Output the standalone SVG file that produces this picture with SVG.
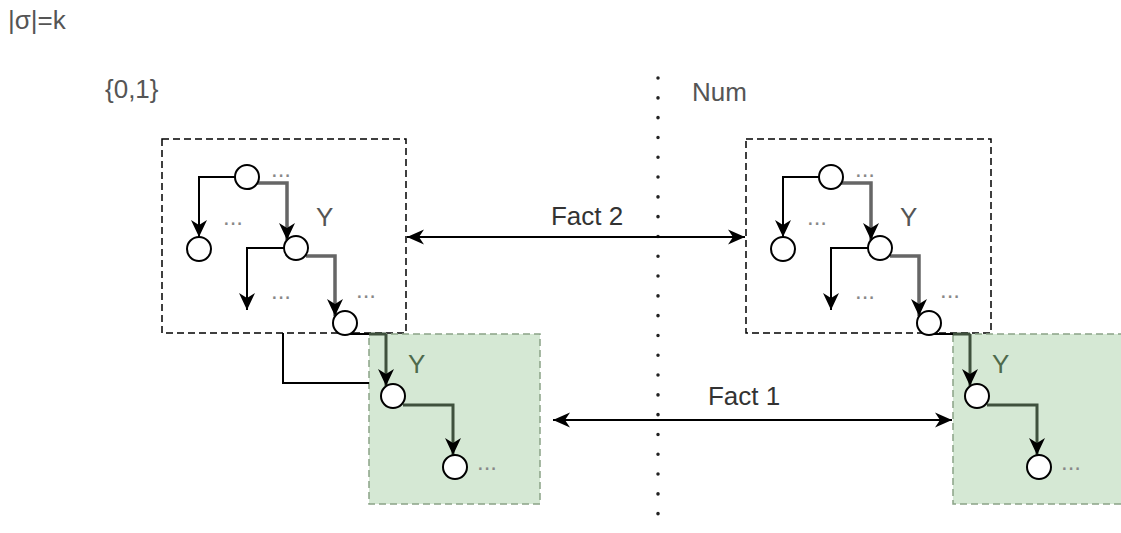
<svg xmlns="http://www.w3.org/2000/svg" width="1121" height="533" viewBox="0 0 1121 533">
  <style>
    .lbl { font-family: "Liberation Sans", Arial, sans-serif; font-size: 26px; fill: #333333; }
    .ttl { font-family: "Liberation Sans", Arial, sans-serif; font-size: 26px; fill: #555555; }
    .dots { font-family: "Liberation Sans", Arial, sans-serif; font-size: 24px; fill: #888888; }
    .yl { font-family: "Liberation Sans", Arial, sans-serif; font-size: 26px; fill: #555555; }
    .yg { font-family: "Liberation Sans", Arial, sans-serif; font-size: 26px; fill: #4e6a4c; }
    .frame { fill: none; stroke: #000000; stroke-width: 1.5; stroke-dasharray: 7 4; }
    .green { fill: #d5e8d4; stroke: #8aa387; stroke-width: 1.5; stroke-dasharray: 7 4; }
    .node { fill: #ffffff; stroke: #000000; stroke-width: 2; }
    .e { fill: none; stroke: #000000; stroke-width: 2; }
    .ey { fill: none; stroke: #666666; stroke-width: 3.5; }
    .eg { fill: none; stroke: #3f513d; stroke-width: 3; }
    .arr { marker-end: url(#tip); }
    .both { fill: none; stroke: #000000; stroke-width: 2; marker-start: url(#tip2); marker-end: url(#tip2); }
    .sep { fill: none; stroke: #222222; stroke-width: 3.5; stroke-linecap: round; stroke-dasharray: 0.1 19.7; }
  </style>
  <defs>
    <marker id="tip" markerUnits="userSpaceOnUse" viewBox="0 0 18 18" markerWidth="18" markerHeight="18" refX="17" refY="9" orient="auto" overflow="visible">
      <path d="M0,1 L17,9 L0,17 L5,9 Z" fill="#000000"/>
    </marker>
    <marker id="tip2" markerUnits="userSpaceOnUse" viewBox="0 0 18 18" markerWidth="18" markerHeight="18" refX="17" refY="9" orient="auto-start-reverse" overflow="visible">
      <path d="M0,1.5 L17,9 L0,16.5 L5,9 Z" fill="#000000"/>
    </marker>
  </defs>

  <rect width="1121" height="533" fill="#ffffff"/>

  <!-- headings -->
  <g id="title"><text class="ttl" x="8" y="29">|σ|=k</text></g>
  <g id="label-binary"><text class="ttl" x="105" y="98">{0,1}</text></g>
  <g id="label-num"><text class="ttl" x="692" y="101">Num</text></g>

  <!-- vertical separator -->
  <g id="separator"><line class="sep" x1="658" y1="78" x2="658" y2="532"/></g>

  <!-- frames -->
  <g id="frame-left"><rect class="frame" x="162" y="139" width="244" height="194"/></g>
  <g id="frame-right"><rect class="frame" x="746" y="139" width="245" height="194"/></g>
  <g id="suffix-left"><rect class="green" x="369" y="334" width="171" height="170"/></g>
  <g id="suffix-right"><rect class="green" x="953" y="334" width="175" height="170"/></g>

  <!-- connectors -->
  <g id="connectors">
    <!-- left tree -->
    <path class="e arr" d="M235,177 H199 V237"/>
    <path class="ey arr" d="M257,183 H287 V240"/>
    <path class="e arr" d="M284,248 H247 V310"/>
    <path class="ey arr" d="M306,256 H335 V316"/>
    <path class="e" d="M345,334 H369"/>
    <path class="eg" d="M369,334 H386"/>
    <path class="eg arr" d="M386,334 V386"/>
    <path class="e" d="M283,333 V383 H369"/>
    <path class="eg arr" d="M403,405 H453 V455"/>
    <!-- right tree -->
    <path class="e arr" d="M819,177 H783 V237"/>
    <path class="ey arr" d="M841,183 H871 V240"/>
    <path class="e arr" d="M868,248 H831 V310"/>
    <path class="ey arr" d="M890,256 H919 V316"/>
    <path class="e" d="M929,334 H953"/>
    <path class="eg" d="M953,334 H970"/>
    <path class="eg arr" d="M970,334 V386"/>
    <path class="eg arr" d="M987,405 H1037 V455"/>
    <!-- correspondences -->
    <path class="both" d="M407,237 H745"/>
    <path class="both" d="M553,420 H952"/>
  </g>

  <!-- left tree nodes -->
  <g id="l-root"><circle class="node" cx="247" cy="177" r="12"/><text class="dots" x="271" y="177">...</text></g>
  <g id="l-leaf"><circle class="node" cx="199" cy="249" r="12"/><text class="dots" x="223" y="225">...</text></g>
  <g id="l-mid"><circle class="node" cx="296" cy="248" r="12"/><text class="dots" x="271" y="299">...</text></g>
  <g id="l-low"><circle class="node" cx="345" cy="323" r="12"/><text class="dots" x="356" y="298">...</text></g>
  <g id="l-y1"><text class="yl" x="316" y="226">Y</text></g>
  <g id="l-y2"><text class="yg" x="408" y="373">Y</text></g>
  <g id="l-s1"><circle class="node" cx="393" cy="396" r="12"/></g>
  <g id="l-s2"><circle class="node" cx="455" cy="467" r="12"/><text class="dots" x="477" y="470">...</text></g>

  <!-- right tree nodes -->
  <g id="r-root"><circle class="node" cx="831" cy="177" r="12"/><text class="dots" x="855" y="177">...</text></g>
  <g id="r-leaf"><circle class="node" cx="783" cy="249" r="12"/><text class="dots" x="807" y="225">...</text></g>
  <g id="r-mid"><circle class="node" cx="880" cy="248" r="12"/><text class="dots" x="855" y="299">...</text></g>
  <g id="r-low"><circle class="node" cx="929" cy="323" r="12"/><text class="dots" x="940" y="298">...</text></g>
  <g id="r-y1"><text class="yl" x="900" y="226">Y</text></g>
  <g id="r-y2"><text class="yg" x="992" y="373">Y</text></g>
  <g id="r-s1"><circle class="node" cx="977" cy="396" r="12"/></g>
  <g id="r-s2"><circle class="node" cx="1039" cy="467" r="12"/><text class="dots" x="1061" y="470">...</text></g>

  <!-- edge labels -->
  <g id="fact2"><text class="lbl" x="587" y="225" text-anchor="middle">Fact 2</text></g>
  <g id="fact1"><text class="lbl" x="744" y="405" text-anchor="middle">Fact 1</text></g>
</svg>
